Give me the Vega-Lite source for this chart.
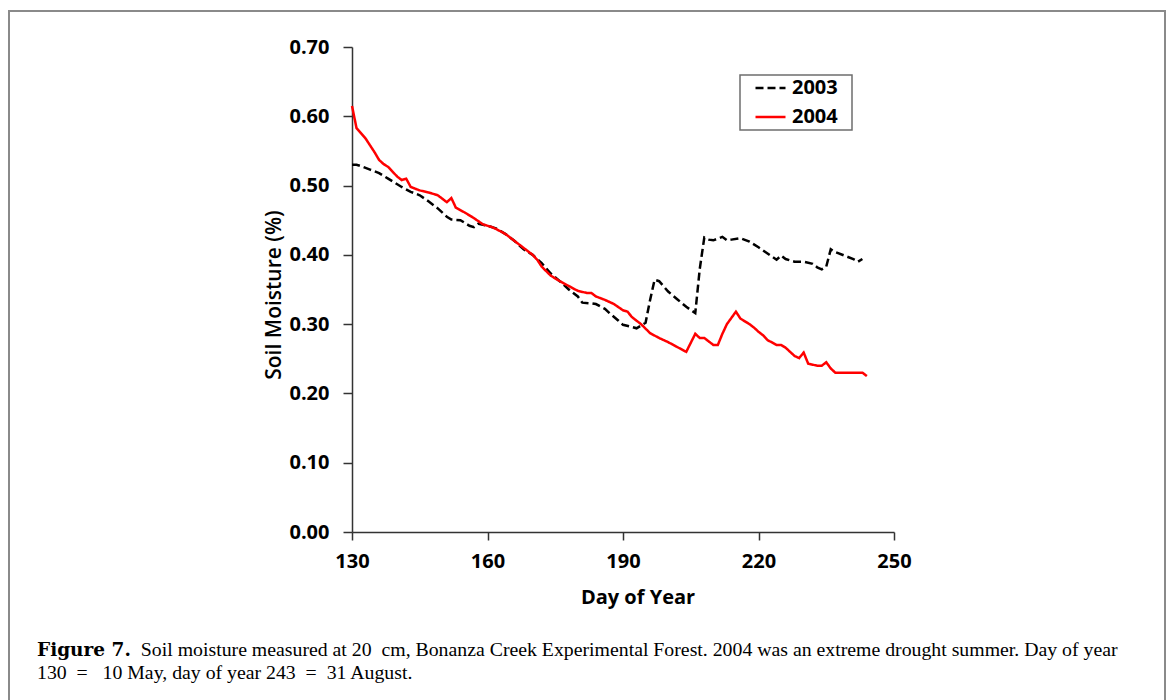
{
  "$schema": "https://vega.github.io/schema/vega-lite/v6.json",
  "width": 1156,
  "height": 690,
  "autosize": "none",
  "padding": {"left": 9, "top": 11, "right": 6, "bottom": -1},
  "background": "white",
  "title": {
    "text": "Figure 7.",
    "subtitle": [
      "\u200b\u00a0\u00a0\u00a0\u00a0\u00a0\u00a0\u00a0\u00a0\u00a0\u00a0\u00a0\u00a0\u00a0\u00a0\u00a0\u00a0\u00a0\u00a0\u00a0\u00a0\u00a0Soil moisture measured at 20 \u00a0cm, Bonanza Creek Experimental Forest. 2004 was an extreme drought summer. Day of year",
      "130\u00a0\u00a0=\u00a0\u00a0 10 May, day of year 243\u00a0\u00a0=\u00a0\u00a031 August."
    ],
    "orient": "bottom",
    "anchor": "start",
    "frame": "group",
    "baseline": "alphabetic",
    "offset": -45,
    "dx": 28,
    "font": "DejaVu Serif",
    "fontSize": 18.5,
    "fontWeight": "bold",
    "color": "black",
    "subtitleFont": "Liberation Serif",
    "subtitleFontSize": 19.8,
    "subtitleFontWeight": "normal",
    "subtitleColor": "black",
    "subtitleLineHeight": 23,
    "subtitlePadding": -18.5
  },
  "data": {
    "values": [
      {"year": "2003", "day": 130, "value": 0.530},
      {"year": "2003", "day": 131, "value": 0.530},
      {"year": "2003", "day": 132, "value": 0.528},
      {"year": "2003", "day": 134, "value": 0.523},
      {"year": "2003", "day": 136, "value": 0.518},
      {"year": "2003", "day": 138, "value": 0.510},
      {"year": "2003", "day": 139, "value": 0.506},
      {"year": "2003", "day": 141, "value": 0.498},
      {"year": "2003", "day": 143, "value": 0.491},
      {"year": "2003", "day": 145, "value": 0.486},
      {"year": "2003", "day": 147, "value": 0.477},
      {"year": "2003", "day": 149, "value": 0.467},
      {"year": "2003", "day": 151, "value": 0.455},
      {"year": "2003", "day": 152, "value": 0.451},
      {"year": "2003", "day": 154, "value": 0.450},
      {"year": "2003", "day": 156, "value": 0.442},
      {"year": "2003", "day": 157, "value": 0.440},
      {"year": "2003", "day": 158, "value": 0.445},
      {"year": "2003", "day": 160, "value": 0.442},
      {"year": "2003", "day": 162, "value": 0.438},
      {"year": "2003", "day": 164, "value": 0.430},
      {"year": "2003", "day": 166, "value": 0.420},
      {"year": "2003", "day": 168, "value": 0.408},
      {"year": "2003", "day": 170, "value": 0.400},
      {"year": "2003", "day": 172, "value": 0.388},
      {"year": "2003", "day": 174, "value": 0.373},
      {"year": "2003", "day": 176, "value": 0.362},
      {"year": "2003", "day": 178, "value": 0.350},
      {"year": "2003", "day": 180, "value": 0.340},
      {"year": "2003", "day": 181, "value": 0.331},
      {"year": "2003", "day": 183, "value": 0.330},
      {"year": "2003", "day": 184, "value": 0.329},
      {"year": "2003", "day": 186, "value": 0.322},
      {"year": "2003", "day": 187, "value": 0.316},
      {"year": "2003", "day": 189, "value": 0.305},
      {"year": "2003", "day": 190, "value": 0.299},
      {"year": "2003", "day": 192, "value": 0.296},
      {"year": "2003", "day": 193, "value": 0.294},
      {"year": "2003", "day": 195, "value": 0.302},
      {"year": "2003", "day": 196, "value": 0.335},
      {"year": "2003", "day": 197, "value": 0.364},
      {"year": "2003", "day": 198, "value": 0.362},
      {"year": "2003", "day": 200, "value": 0.347},
      {"year": "2003", "day": 202, "value": 0.336},
      {"year": "2003", "day": 204, "value": 0.325},
      {"year": "2003", "day": 206, "value": 0.316},
      {"year": "2003", "day": 207, "value": 0.380},
      {"year": "2003", "day": 208, "value": 0.425},
      {"year": "2003", "day": 209, "value": 0.422},
      {"year": "2003", "day": 210, "value": 0.421},
      {"year": "2003", "day": 212, "value": 0.426},
      {"year": "2003", "day": 213, "value": 0.421},
      {"year": "2003", "day": 214, "value": 0.422},
      {"year": "2003", "day": 216, "value": 0.424},
      {"year": "2003", "day": 218, "value": 0.419},
      {"year": "2003", "day": 220, "value": 0.411},
      {"year": "2003", "day": 222, "value": 0.402},
      {"year": "2003", "day": 224, "value": 0.393},
      {"year": "2003", "day": 225, "value": 0.399},
      {"year": "2003", "day": 226, "value": 0.394},
      {"year": "2003", "day": 228, "value": 0.390},
      {"year": "2003", "day": 230, "value": 0.390},
      {"year": "2003", "day": 232, "value": 0.387},
      {"year": "2003", "day": 233, "value": 0.382},
      {"year": "2003", "day": 234, "value": 0.379},
      {"year": "2003", "day": 235, "value": 0.383},
      {"year": "2003", "day": 236, "value": 0.408},
      {"year": "2003", "day": 237, "value": 0.404},
      {"year": "2003", "day": 239, "value": 0.399},
      {"year": "2003", "day": 241, "value": 0.394},
      {"year": "2003", "day": 242, "value": 0.390},
      {"year": "2003", "day": 243, "value": 0.394},
      {"year": "2004", "day": 130, "value": 0.615},
      {"year": "2004", "day": 131, "value": 0.583},
      {"year": "2004", "day": 133, "value": 0.568},
      {"year": "2004", "day": 135, "value": 0.548},
      {"year": "2004", "day": 136, "value": 0.537},
      {"year": "2004", "day": 137, "value": 0.531},
      {"year": "2004", "day": 138, "value": 0.527},
      {"year": "2004", "day": 140, "value": 0.513},
      {"year": "2004", "day": 141, "value": 0.508},
      {"year": "2004", "day": 142, "value": 0.510},
      {"year": "2004", "day": 143, "value": 0.498},
      {"year": "2004", "day": 145, "value": 0.493},
      {"year": "2004", "day": 147, "value": 0.490},
      {"year": "2004", "day": 149, "value": 0.486},
      {"year": "2004", "day": 151, "value": 0.476},
      {"year": "2004", "day": 152, "value": 0.482},
      {"year": "2004", "day": 153, "value": 0.468},
      {"year": "2004", "day": 155, "value": 0.461},
      {"year": "2004", "day": 157, "value": 0.453},
      {"year": "2004", "day": 159, "value": 0.444},
      {"year": "2004", "day": 161, "value": 0.440},
      {"year": "2004", "day": 162, "value": 0.437},
      {"year": "2004", "day": 164, "value": 0.430},
      {"year": "2004", "day": 166, "value": 0.420},
      {"year": "2004", "day": 168, "value": 0.410},
      {"year": "2004", "day": 170, "value": 0.400},
      {"year": "2004", "day": 171, "value": 0.393},
      {"year": "2004", "day": 172, "value": 0.383},
      {"year": "2004", "day": 174, "value": 0.370},
      {"year": "2004", "day": 176, "value": 0.362},
      {"year": "2004", "day": 178, "value": 0.355},
      {"year": "2004", "day": 180, "value": 0.348},
      {"year": "2004", "day": 182, "value": 0.345},
      {"year": "2004", "day": 183, "value": 0.345},
      {"year": "2004", "day": 184, "value": 0.340},
      {"year": "2004", "day": 186, "value": 0.335},
      {"year": "2004", "day": 188, "value": 0.329},
      {"year": "2004", "day": 190, "value": 0.320},
      {"year": "2004", "day": 191, "value": 0.318},
      {"year": "2004", "day": 192, "value": 0.310},
      {"year": "2004", "day": 194, "value": 0.300},
      {"year": "2004", "day": 196, "value": 0.287},
      {"year": "2004", "day": 198, "value": 0.280},
      {"year": "2004", "day": 200, "value": 0.274},
      {"year": "2004", "day": 202, "value": 0.267},
      {"year": "2004", "day": 204, "value": 0.260},
      {"year": "2004", "day": 205, "value": 0.273},
      {"year": "2004", "day": 206, "value": 0.286},
      {"year": "2004", "day": 207, "value": 0.280},
      {"year": "2004", "day": 208, "value": 0.280},
      {"year": "2004", "day": 210, "value": 0.270},
      {"year": "2004", "day": 211, "value": 0.270},
      {"year": "2004", "day": 212, "value": 0.286},
      {"year": "2004", "day": 213, "value": 0.300},
      {"year": "2004", "day": 215, "value": 0.318},
      {"year": "2004", "day": 216, "value": 0.308},
      {"year": "2004", "day": 218, "value": 0.300},
      {"year": "2004", "day": 219, "value": 0.295},
      {"year": "2004", "day": 220, "value": 0.289},
      {"year": "2004", "day": 221, "value": 0.284},
      {"year": "2004", "day": 222, "value": 0.277},
      {"year": "2004", "day": 224, "value": 0.270},
      {"year": "2004", "day": 225, "value": 0.270},
      {"year": "2004", "day": 226, "value": 0.266},
      {"year": "2004", "day": 227, "value": 0.260},
      {"year": "2004", "day": 228, "value": 0.254},
      {"year": "2004", "day": 229, "value": 0.251},
      {"year": "2004", "day": 230, "value": 0.259},
      {"year": "2004", "day": 231, "value": 0.243},
      {"year": "2004", "day": 233, "value": 0.240},
      {"year": "2004", "day": 234, "value": 0.240},
      {"year": "2004", "day": 235, "value": 0.245},
      {"year": "2004", "day": 236, "value": 0.236},
      {"year": "2004", "day": 237, "value": 0.230},
      {"year": "2004", "day": 240, "value": 0.230},
      {"year": "2004", "day": 243, "value": 0.230},
      {"year": "2004", "day": 244, "value": 0.225}
    ]
  },
  "mark": {"type": "line", "strokeWidth": 2.5, "strokeCap": "butt", "clip": false},
  "encoding": {
    "x": {
      "field": "day",
      "type": "quantitative",
      "scale": {"domain": [130, 250], "range": [343, 885], "nice": false, "zero": false},
      "axis": {
        "values": [130, 160, 190, 220, 250],
        "offset": -169,
        "tickSize": 8,
        "labelPadding": 11,
        "labelFlush": false,
        "labelOverlap": false,
        "title": "Day of Year",
        "titleX": 628.5,
        "titleY": 71,
        "titleBaseline": "alphabetic",
        "titleAlign": "center"
      }
    },
    "y": {
      "field": "value",
      "type": "quantitative",
      "scale": {"domain": [0, 0.7], "range": [521, 36], "nice": false, "zero": false},
      "axis": {
        "values": [0, 0.1, 0.2, 0.3, 0.4, 0.5, 0.6, 0.7],
        "format": ".2f",
        "offset": -343,
        "tickSize": 9,
        "labelPadding": 14,
        "labelFlush": false,
        "labelOverlap": false,
        "title": "Soil Moisture (%)",
        "titleX": -72,
        "titleY": 283.5,
        "titleAngle": -90,
        "titleBaseline": "alphabetic",
        "titleAlign": "center",
        "titleFontSize": 21,
        "titleFontWeight": 600
      }
    },
    "color": {
      "field": "year",
      "type": "nominal",
      "scale": {"domain": ["2003", "2004"], "range": ["#000000", "#ff0000"]},
      "legend": {
        "title": null,
        "orient": "none",
        "legendX": 731,
        "legendY": 64,
        "padding": 3,
        "clipHeight": 20,
        "rowPadding": 9,
        "symbolOffset": 11,
        "symbolType": "stroke",
        "symbolSize": 900,
        "symbolStrokeWidth": 2.5,
        "labelOffset": 5,
        "labelFont": "Open Sans",
        "labelFontSize": 20,
        "labelFontWeight": "bold",
        "labelColor": "black",
        "labelExpr": "datum.label + '\u00a0\u00a0\u200b'",
        "strokeColor": "#6e6e6e"
      }
    },
    "strokeDash": {
      "field": "year",
      "type": "nominal",
      "scale": {"domain": ["2003", "2004"], "range": [[8, 4], [1, 0]]},
      "legend": {
        "title": null,
        "orient": "none",
        "legendX": 731,
        "legendY": 64,
        "padding": 3,
        "clipHeight": 20,
        "rowPadding": 9,
        "symbolOffset": 11,
        "symbolType": "stroke",
        "symbolSize": 900,
        "symbolStrokeWidth": 2.5,
        "labelOffset": 5,
        "labelFont": "Open Sans",
        "labelFontSize": 20,
        "labelFontWeight": "bold",
        "labelColor": "black",
        "labelExpr": "datum.label + '\u00a0\u00a0\u200b'",
        "strokeColor": "#6e6e6e"
      }
    }
  },
  "config": {
    "view": {"stroke": "#8a8a8a", "strokeWidth": 2},
    "legend": {"strokeWidth": 1.5},
    "axis": {
      "grid": false,
      "domainColor": "#333333",
      "domainWidth": 1.5,
      "tickColor": "#333333",
      "tickWidth": 1.5,
      "labelFont": "Open Sans",
      "labelFontSize": 20,
      "labelFontWeight": "bold",
      "labelColor": "black",
      "titleFont": "Open Sans",
      "titleFontSize": 20,
      "titleFontWeight": "bold",
      "titleColor": "black"
    }
  }
}
